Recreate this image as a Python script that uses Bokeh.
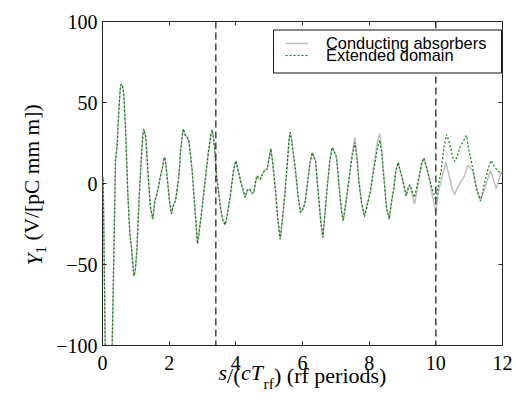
import math
from bokeh.plotting import figure
from bokeh.models import (Span, Legend, LegendItem, LinearAxis, FixedTicker,
                          CustomJSTickFormatter, BoxAnnotation, Range1d)
from bokeh.embed import file_html
from bokeh.resources import INLINE

# ---------------- data ----------------
common_s = [0.0, 0.02, 0.05, 0.08, 0.18, 0.29, 0.34, 0.39, 0.44, 0.49, 0.53, 0.56, 0.60, 0.64,
            0.69, 0.76, 0.82, 0.87, 0.94, 0.98, 1.03, 1.09, 1.16, 1.21, 1.24, 1.30, 1.36, 1.44,
            1.51, 1.57, 1.62, 1.68, 1.74, 1.79, 1.84, 1.87, 1.90, 1.94, 2.01, 2.07, 2.12, 2.19,
            2.29, 2.35, 2.40, 2.43, 2.47, 2.51, 2.59, 2.69, 2.77, 2.85, 2.90, 2.99, 3.08, 3.17,
            3.25, 3.29, 3.33, 3.37, 3.42, 3.47, 3.54, 3.60, 3.68, 3.74, 3.84, 3.93, 4.00, 4.07,
            4.14, 4.28, 4.35, 4.42, 4.48, 4.54, 4.60, 4.64, 4.70, 4.74, 4.80, 4.89, 4.94, 5.00,
            5.05, 5.10, 5.19, 5.26, 5.33, 5.40, 5.47, 5.55, 5.60, 5.63, 5.68, 5.79, 5.87, 5.94,
            6.00, 6.07, 6.15, 6.22, 6.29, 6.39, 6.47, 6.55, 6.61, 6.66, 6.74, 6.82, 6.89, 6.95,
            7.02, 7.10, 7.17, 7.22, 7.30]
common_y = [3.0, 4.0, -45.0, -100.0, -140.0, -100.0, -45.0, 14.0, 24.0, 45.0, 58.0, 61.4, 60.0, 55.0,
            34.6, -6.5, -31.0, -39.5, -57.0, -54.0, -42.0, -12.7, 14.0, 30.0, 33.6, 28.4, 7.8, -14.8,
            -22.0, -10.7, -7.6, -2.0, 4.8, 9.0, 15.0, 16.2, 12.0, 3.7, -10.7, -18.7, -14.0, -10.5,
            3.9, 22.0, 31.0, 33.7, 30.0, 29.6, 26.5, 8.0, -14.8, -37.2, -30.0, -14.6, 2.0, 18.3,
            30.0, 33.1, 28.0, 20.0, 5.0, -3.0, -14.8, -22.0, -25.5, -20.0, -6.6, 8.0, 14.0, 8.0,
            1.7, -8.7, -4.0, -3.5, -6.0, -5.6, 2.0, 4.8, 3.0, 2.7, 6.0, 8.8, 8.8, 16.0,
            21.5, 14.0, -4.5, -22.0, -34.4, -22.0, -6.6, 14.0, 28.0, 31.5, 26.0, 7.8, -8.0, -17.9,
            -16.0, -12.7, 0.0, 12.0, 19.1, 14.0, -5.0, -24.0, -33.3, -22.0, -2.5, 14.0, 22.2, 20.0,
            16.0, -2.0, -17.0, -23.0, -12.0]

cond_tail_s = [7.39, 7.47, 7.57, 7.64, 7.69, 7.77, 7.86, 7.95, 8.04, 8.15, 8.25, 8.32, 8.38, 8.44,
               8.52, 8.60, 8.68, 8.74, 8.80, 8.87, 8.93, 8.99, 9.11, 9.17, 9.22, 9.28, 9.36, 9.44,
               9.50, 9.58, 9.64, 9.72, 9.80, 9.90, 10.00, 10.08, 10.16, 10.30, 10.41, 10.49, 10.56,
               10.64, 10.74, 10.84, 10.96, 11.05, 11.11, 11.24, 11.34, 11.48, 11.64, 11.72, 11.81,
               11.90, 11.96, 12.00]
cond_tail_y = [1.7, 16.0, 28.4, 15.0, 2.0, -12.0, -19.5, -12.0, -4.5, 12.0, 26.0, 30.9, 20.0, 5.0,
               -14.0, -22.0, -10.0, -3.0, 8.0, 13.0, 8.0, 3.7, -7.6, -3.0, -0.8, -6.0, -12.7, -4.0,
               3.0, 12.0, 15.7, 10.0, 3.7, -8.0, -17.9, -5.0, 1.9, 13.2, 3.9, -3.0, -7.0,
               -3.0, 0.8, 3.9, 11.5, 9.0, 8.0, -4.3, -10.5, -2.3, 8.0, 3.0, -3.3,
               3.0, 7.0, 6.0]

ext_tail_s = [7.39, 7.47, 7.57, 7.64, 7.69, 7.77, 7.86, 7.95, 8.04, 8.15, 8.25, 8.32, 8.38, 8.44,
              8.52, 8.60, 8.68, 8.74, 8.80, 8.87, 8.93, 8.99, 9.11, 9.17, 9.22, 9.28, 9.36, 9.44,
              9.50, 9.58, 9.64, 9.72, 9.80, 9.90, 10.00, 10.07, 10.16, 10.24, 10.32, 10.38, 10.44,
              10.52, 10.58, 10.66, 10.72, 10.82, 10.92, 10.98, 11.06, 11.21, 11.34, 11.48, 11.58,
              11.66, 11.74, 11.81, 11.91, 12.00]
ext_tail_y = [1.7, 14.0, 25.3, 14.0, 1.7, -12.0, -20.6, -13.0, -4.5, 10.0, 22.0, 26.8, 18.0, 3.0,
              -15.0, -22.0, -10.0, -3.0, 8.0, 13.0, 8.0, 3.7, -7.6, -3.0, -0.8, -4.0, -8.6, -1.0,
              5.0, 13.0, 15.7, 10.0, 3.7, -4.0, -10.0, -2.0, 8.0, 22.0, 30.2, 27.0, 22.4,
              15.0, 13.6, 18.0, 22.4, 26.0, 29.6, 22.0, 14.2, -2.3, -10.9, 1.9, 10.0,
              14.2, 11.0, 9.0, 7.0, 6.0]

series_names = ["Conducting absorbers", "Extended domain"]
marker_s = [3.4, 10.0]
x_ticks = [0, 2, 4, 6, 8, 10, 12]
y_ticks = [-100, -50, 0, 50, 100]

cond_s = common_s + cond_tail_s
cond_y = common_y + cond_tail_y
ext_s = common_s + ext_tail_s
ext_y = common_y + ext_tail_y

# ---------------- figure ----------------
W, H = 516, 403
FL, FR, FT, FB = 102, 502, 21, 345   # frame edges in canvas pixels
X0, X1, Y0, Y1 = 0, 12, -100, 100
p = figure(width=W, height=H, output_backend="svg", toolbar_location=None,
           x_range=Range1d(X0, X1), y_range=Range1d(Y0, Y1),
           min_border_left=FL, min_border_right=W - FR, min_border_top=FT, min_border_bottom=H - FB)
p.background_fill_color = "white"
p.border_fill_color = "white"
p.outline_line_color = "#222222"
p.outline_line_width = 1
p.xgrid.visible = False
p.ygrid.visible = False

fmt = CustomJSTickFormatter(code="return tick < 0 ? '\u2212' + Math.abs(tick) : String(tick);")

def style_axis(ax, ticks, show_labels):
    ax.ticker = FixedTicker(ticks=ticks)
    ax.axis_line_color = None
    ax.major_tick_in = 4
    ax.major_tick_out = 0
    ax.major_tick_line_color = "#222222"
    ax.major_tick_line_width = 1
    ax.minor_tick_line_color = None
    if show_labels:
        ax.formatter = fmt
        ax.major_label_text_font = "Liberation Serif"
        ax.major_label_text_font_size = "20px"
        ax.major_label_text_color = "black"
    else:
        ax.major_label_text_font_size = "0px"
        ax.major_label_standoff = 0

xa = p.xaxis[0]
ya = p.yaxis[0]
style_axis(xa, x_ticks, True)
style_axis(ya, y_ticks, True)
xa.major_label_standoff = 10
ya.major_label_standoff = 5

top_ax = LinearAxis()
right_ax = LinearAxis()
style_axis(top_ax, x_ticks, False)
style_axis(right_ax, y_ticks, False)
p.add_layout(top_ax, "above")
p.add_layout(right_ax, "right")

# ---------------- data lines ----------------
r_cond = p.line(cond_s, cond_y, line_color="#bfbfbf", line_width=1.5)
r_ext = p.line(ext_s, ext_y, line_color="#008000", line_width=1.2, line_dash="2 2")

for m in marker_s:
    p.add_layout(Span(location=m, dimension="height", line_color="#333333",
                      line_width=1.4, line_dash="7 4"))

# ---------------- legend ----------------
box = BoxAnnotation(left=171, right=399, top=315.5, bottom=272.5,
                    left_units="screen", right_units="screen",
                    top_units="screen", bottom_units="screen",
                    fill_color="white", fill_alpha=1.0,
                    line_color="#111111", line_width=1, line_alpha=1.0)
p.add_layout(box)

def make_legend(name, rend, loc):
    return Legend(items=[LegendItem(label=name, renderers=[rend])], location=loc,
                  padding=0, spacing=0, margin=0, border_line_color=None,
                  background_fill_alpha=0, glyph_width=23, glyph_height=12,
                  label_standoff=18, label_height=12,
                  label_text_font="Liberation Sans", label_text_font_size="16.4px",
                  label_text_color="black")

p.add_layout(make_legend(series_names[0], r_cond, (183, 292.5)))
p.add_layout(make_legend(series_names[1], r_ext, (183, 280.5)))

# ---------------- axis titles: label-only axes stacked in the side panels ----------------
def cx_to_data(px):
    return X0 + (px - FL) / (FR - FL) * (X1 - X0)

def cy_to_data(py):
    return Y0 + (FB - py) / (FB - FT) * (Y1 - Y0)

def title_axis(side, centers_px, texts, size, style, standoff):
    conv = cx_to_data if side == "below" else cy_to_data
    ticks = [round(conv(c), 4) for c in centers_px]
    order = sorted(range(len(ticks)), key=lambda i: ticks[i])
    ticks = [ticks[i] for i in order]
    texts = [texts[i] for i in order]
    ax = LinearAxis()
    ax.ticker = FixedTicker(ticks=ticks)
    ax.formatter = CustomJSTickFormatter(args=dict(labels=texts),
                                         code="return labels[index];")
    ax.axis_line_color = None
    ax.major_tick_line_color = None
    ax.minor_tick_line_color = None
    ax.major_tick_in = 0
    ax.major_tick_out = 0
    ax.major_label_standoff = standoff
    ax.major_label_text_font = "Liberation Serif"
    ax.major_label_text_font_size = size
    ax.major_label_text_font_style = style
    ax.major_label_text_color = "black"
    if side == "left":
        ax.major_label_orientation = "parallel"
    p.add_layout(ax, side)

# x title: s/(cT_rf) (rf periods)  -- italic and roman rows share one baseline
title_axis("below", [222.3, 251.5], ["s", "cT"], "22px", "italic", -13)
title_axis("below", [233.3, 329.7], ["/(", ") (rf periods)"], "22px", "normal", -25)
title_axis("below", [268.2], ["rf"], "15.4px", "normal", -16)

# y title: Y_1 (V/[pC mm m])
title_axis("left", [249.2], ["1"], "15px", "normal", 7)
title_axis("left", [259.0], ["Y"], "21.5px", "italic", -14)
title_axis("left", [172.0], ["(V/[pC mm m])"], "21.5px", "normal", -24)

open("out.html", "w").write(file_html(p, INLINE))
